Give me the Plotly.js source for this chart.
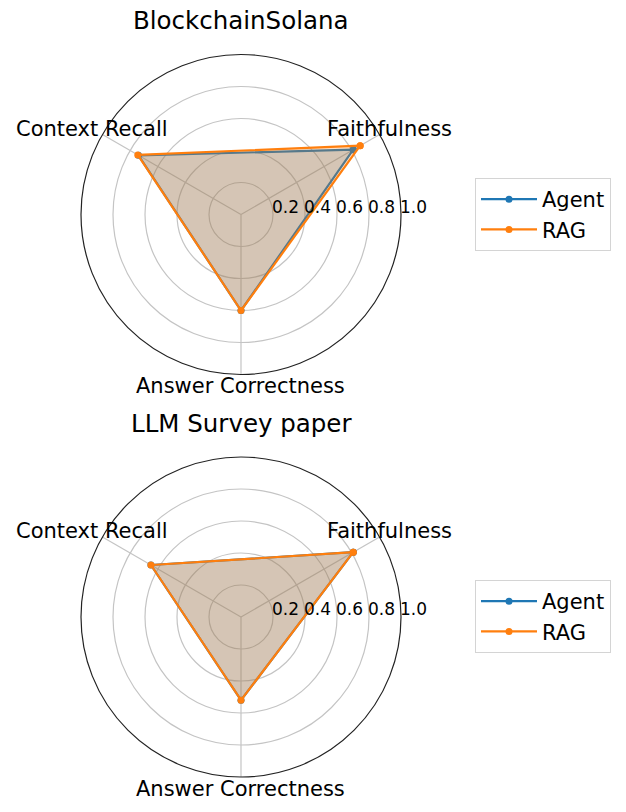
<!DOCTYPE html>
<html><head><meta charset="utf-8">
<script src="https://cdn.plot.ly/plotly-3.0.1.min.js"></script>
<style>html,body{margin:0;padding:0;background:#fff}</style>
</head><body><div id="chart" style="width:626px;height:812px"></div>
<script>
// ---- data ----
const categories = ["Faithfulness", "Context Recall", "Answer Correctness"];
const chartTitles = ["BlockchainSolana", "LLM Survey paper"];
const seriesNames = ["Agent", "RAG"];
const solanaAgent = [0.81, 0.74, 0.60];
const solanaRAG = [0.86, 0.745, 0.60];
const surveyAgent = [0.81, 0.65, 0.52];
const surveyRAG = [0.81, 0.65, 0.52];
const radialTicks = [0.2, 0.4, 0.6, 0.8, 1.0];
const radialTickLabels = ["0.2", "0.4", "0.6", "0.8", "1.0"];

// ---- layout constants ----
const W = 626, H = 812;
const R = 160;
const centers = [[241, 214.5], [241, 617]];
const colors = ["#1f77b4", "#ff7f0e"];
const fills = ["rgba(31,119,180,0.25)", "rgba(255,127,14,0.25)"];
const FONT = "DejaVu Sans, sans-serif";
const labelR = 172;
const startAngle = 30;

const panels = [[solanaAgent, solanaRAG], [surveyAgent, surveyRAG]];
const traces = [];
const annotations = [];
const layout = {
  width: W, height: H,
  margin: {l: 0, r: 0, t: 0, b: 0},
  paper_bgcolor: "#fff",
  font: {family: FONT, color: "#000"},
  annotations: annotations
};

function closeArr(a) { return a.concat([a[0]]); }

panels.forEach((series, p) => {
  const polarId = p === 0 ? "polar" : "polar2";
  const legendId = p === 0 ? "legend" : "legend2";
  const [cx, cy] = centers[p];
  series.forEach((vals, s) => {
    traces.push({
      type: "scatterpolar", subplot: polarId, legend: legendId,
      r: closeArr(vals), theta: closeArr(categories),
      mode: "lines+markers", name: seriesNames[s],
      line: {color: colors[s], width: 2.2},
      marker: {color: colors[s], size: 7},
      showlegend: true, hoverinfo: "skip"
    });
    traces.push({
      type: "scatterpolar", subplot: polarId, legend: legendId,
      r: closeArr(vals), theta: closeArr(categories),
      mode: "lines", fill: "toself", fillcolor: fills[s],
      line: {color: "rgba(0,0,0,0)", width: 0},
      showlegend: false, hoverinfo: "skip"
    });
  });
  layout[polarId] = {
    domain: {x: [(cx - R) / W, (cx + R) / W], y: [1 - (cy + R) / H, 1 - (cy - R) / H]},
    bgcolor: "#fff",
    radialaxis: {
      range: [0, 1], tickvals: radialTicks, showticklabels: false, ticks: "",
      showline: false, gridcolor: "#c4c4c4", gridwidth: 1.2, angle: 0
    },
    angularaxis: {
      direction: "counterclockwise", rotation: startAngle,
      showticklabels: false, ticks: "", showline: true,
      linecolor: "#222", linewidth: 1.2, gridcolor: "#c4c4c4", gridwidth: 1.2
    }
  };
  layout[legendId] = {
    x: 475 / W, xanchor: "left", y: 1 - (p === 0 ? 178 : 580) / H, yanchor: "top",
    bgcolor: "#fff", bordercolor: "#d4d4d4", borderwidth: 1,
    itemwidth: 56, tracegroupgap: 0,
    font: {family: FONT, size: 21, color: "#000"}
  };
  // title
  annotations.push({
    xref: "paper", yref: "paper", x: cx / W, y: 1 - (cy - 193.5) / H,
    xanchor: "center", yanchor: "middle", showarrow: false,
    text: chartTitles[p], font: {family: FONT, size: 24.5, color: "#000"}
  });
  // angular labels
  categories.forEach((c, i) => {
    const ang = (startAngle + i * 360 / categories.length) * Math.PI / 180;
    annotations.push({
      xref: "paper", yref: "paper",
      x: (cx + labelR * Math.cos(ang)) / W, y: 1 - (cy - labelR * Math.sin(ang)) / H,
      xanchor: "center", yanchor: "middle", showarrow: false,
      text: c, font: {family: FONT, size: 21, color: "#000"}
    });
  });
  // radial tick labels
  radialTicks.forEach((v, i) => {
    annotations.push({
      xref: "paper", yref: "paper",
      x: (cx + v * R) / W, y: 1 - cy / H,
      xanchor: "left", yanchor: "bottom", showarrow: false,
      borderpad: 0, xshift: -2, yshift: -3,
      text: radialTickLabels[i], font: {family: FONT, size: 17, color: "#000"}
    });
  });
});

Plotly.newPlot("chart", traces, layout, {displayModeBar: false, staticPlot: true});
</script></body></html>
